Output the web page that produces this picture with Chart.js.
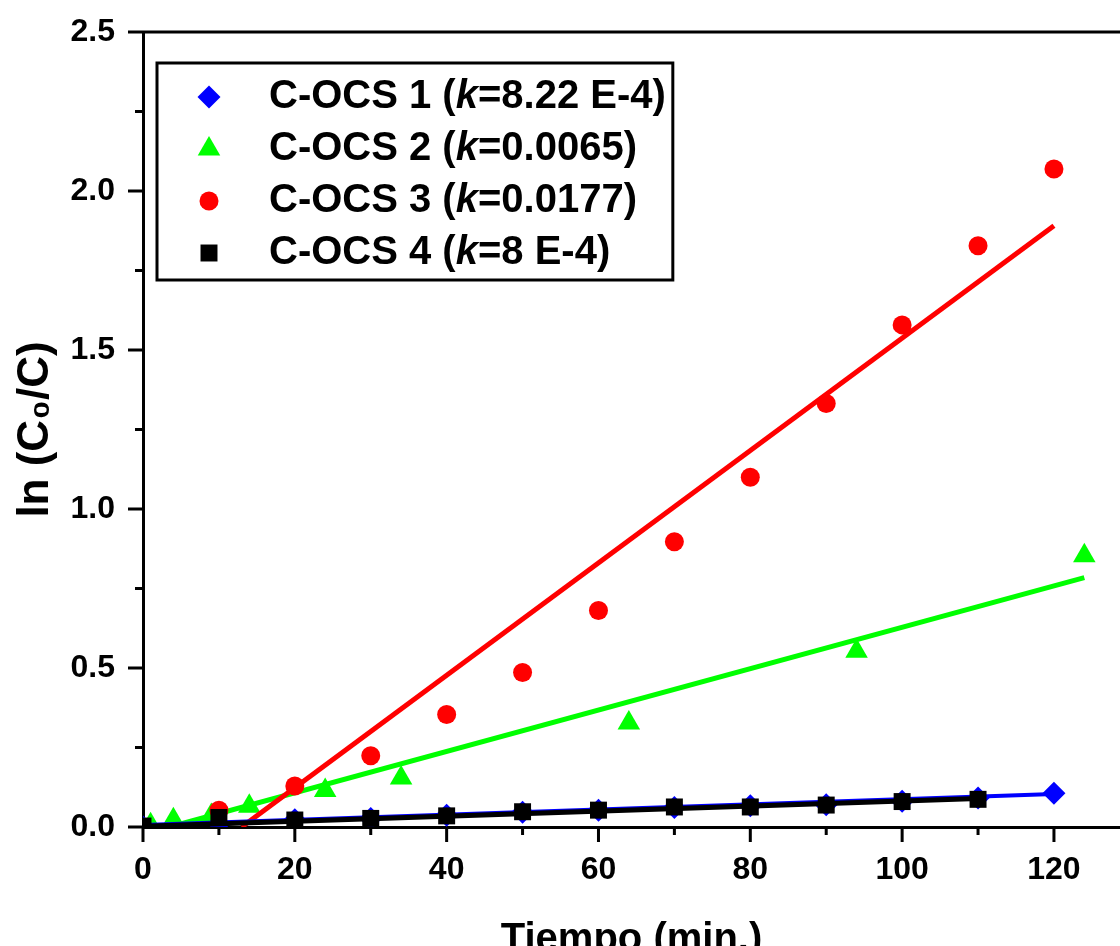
<!DOCTYPE html>
<html>
<head>
<meta charset="utf-8">
<script src="https://cdn.jsdelivr.net/npm/chart.js@4.4.1/dist/chart.umd.min.js"></script>
<style>
html,body{margin:0;padding:0;background:#fff;overflow:hidden}
#wrap{width:1120px;height:946px;position:relative}
</style>
</head>
<body>
<div id="wrap"><canvas id="c" width="1120" height="946"></canvas></div>
<script>
// ---- data ----
const timesA = [0, 10, 20, 30, 40, 50, 60, 70, 80, 90, 100, 110, 120]; // C-OCS 1 and C-OCS 3
const timesB = [1, 4, 9, 14, 24, 34, 64, 94, 124];                     // C-OCS 2
const timesD = [0, 10, 20, 30, 40, 50, 60, 70, 80, 90, 100, 110];      // C-OCS 4
const ocs1 = [0.0, 0.01, 0.023, 0.027, 0.037, 0.046, 0.053, 0.061, 0.067, 0.07, 0.081, 0.091, 0.106];
const ocs2 = [0.007, 0.023, 0.036, 0.065, 0.115, 0.154, 0.327, 0.553, 0.853];
const ocs3 = [0.0, 0.053, 0.129, 0.224, 0.354, 0.486, 0.681, 0.897, 1.10, 1.332, 1.579, 1.828, 2.069];
const ocs4 = [0.003, 0.03, 0.022, 0.027, 0.035, 0.048, 0.053, 0.063, 0.063, 0.069, 0.08, 0.087];
// linear fit lines (start / end)
const fit1T = [0, 120],   fit1Y = [0.006, 0.104];
const fit2T = [3.5, 124], fit2Y = [0.0, 0.784];
const fit3T = [13, 120],  fit3Y = [0.0, 1.891];
const fit4T = [0, 110],   fit4Y = [0.002, 0.09];
const seriesNames = ['C-OCS 1', 'C-OCS 2', 'C-OCS 3', 'C-OCS 4'];
const kLabels = ['8.22 E-4', '0.0065', '0.0177', '8 E-4'];
const xMajor = [0, 20, 40, 60, 80, 100, 120];
const xMinor = [10, 30, 50, 70, 90, 110];
const yMajor = [0, 0.5, 1.0, 1.5, 2.0, 2.5];
const yMinor = [0.25, 0.75, 1.25, 1.75, 2.25];
const xTitle = 'Tiempo (min.)';
const yTitle = 'ln (C\u2080/C)';

// ---- styling ----
const FONT = '"Liberation Sans", Arial, Helvetica, sans-serif';
const BLUE = '#0000ff', GREEN = '#00ff00', RED = '#ff0000', BLACK = '#000000';
const markers = [
  {style: 'rectRot', r: 11.5, color: BLUE},
  {style: 'triangle', r: 13, color: GREEN},
  {style: 'circle', r: 9.5, color: RED},
  {style: 'rect', r: 12, color: BLACK}
];
const pts = (xs, ys) => xs.map((x, i) => ({x: x, y: ys[i]}));

const tickPlugin = {
  id: 'tickMarks',
  afterDraw(chart) {
    const {ctx, chartArea: a, scales: {x, y}} = chart;
    ctx.save();
    ctx.strokeStyle = '#000';
    ctx.lineWidth = 3;
    ctx.lineCap = 'butt';
    ctx.beginPath();
    xMajor.forEach(v => { const p = x.getPixelForValue(v); ctx.moveTo(p, a.bottom); ctx.lineTo(p, a.bottom + 15); });
    xMinor.forEach(v => { const p = x.getPixelForValue(v); ctx.moveTo(p, a.bottom); ctx.lineTo(p, a.bottom + 8); });
    yMajor.forEach(v => { const p = y.getPixelForValue(v); ctx.moveTo(a.left, p); ctx.lineTo(a.left - 15, p); });
    yMinor.forEach(v => { const p = y.getPixelForValue(v); ctx.moveTo(a.left, p); ctx.lineTo(a.left - 8, p); });
    // top frame line
    ctx.moveTo(a.left, a.top); ctx.lineTo(a.right, a.top);
    ctx.stroke();
    ctx.restore();
  }
};

function drawMarker(ctx, m, cx, cy) {
  if (window.Chart && Chart.helpers && Chart.helpers.drawPoint) {
    ctx.fillStyle = m.color; ctx.strokeStyle = m.color;
    Chart.helpers.drawPoint(ctx, {pointStyle: m.style, radius: m.r, borderWidth: 0, rotation: 0}, cx, cy);
    return;
  }
  ctx.fillStyle = m.color;
  ctx.beginPath();
  if (m.style === 'circle') ctx.arc(cx, cy, m.r, 0, Math.PI * 2);
  else if (m.style === 'rect') { const s = m.r * Math.SQRT1_2; ctx.rect(cx - s, cy - s, 2 * s, 2 * s); }
  else if (m.style === 'rectRot') { ctx.moveTo(cx, cy - m.r); ctx.lineTo(cx + m.r, cy); ctx.lineTo(cx, cy + m.r); ctx.lineTo(cx - m.r, cy); ctx.closePath(); }
  else { ctx.moveTo(cx, cy - m.r); ctx.lineTo(cx + m.r * 0.866, cy + m.r / 2); ctx.lineTo(cx - m.r * 0.866, cy + m.r / 2); ctx.closePath(); }
  ctx.fill();
}

const legendPlugin = {
  id: 'boxLegend',
  afterDraw(chart) {
    const {ctx, chartArea: a} = chart;
    const left = a.left + 14, top = a.top + 31;
    const rowH = 52, firstRow = 34;
    const markerX = left + 52, textX = left + 112;
    const fb = 'bold 40px ' + FONT, fi = 'italic bold 40px ' + FONT;
    ctx.save();
    const rows = seriesNames.map((n, i) => ({pre: n + ' (', k: 'k', post: '=' + kLabels[i] + ')'}));
    let maxRight = 0;
    rows.forEach(r => {
      ctx.font = fb; const w1 = ctx.measureText(r.pre).width;
      ctx.font = fi; const w2 = ctx.measureText(r.k).width;
      ctx.font = fb; const w3 = ctx.measureText(r.post).width;
      r.w = [w1, w2, w3];
      maxRight = Math.max(maxRight, textX + w1 + w2 + w3);
    });
    const right = maxRight + 7, bottom = top + 217;
    ctx.fillStyle = '#fff';
    ctx.fillRect(left, top, right - left, bottom - top);
    ctx.lineWidth = 3; ctx.strokeStyle = '#000';
    ctx.strokeRect(left, top, right - left, bottom - top);
    rows.forEach((r, i) => {
      const cy = top + firstRow + i * rowH;
      drawMarker(ctx, markers[i], markerX, cy);
      ctx.fillStyle = '#000';
      ctx.textBaseline = 'middle';
      ctx.textAlign = 'left';
      let x = textX;
      ctx.font = fb; ctx.fillText(r.pre, x, cy); x += r.w[0];
      ctx.font = fi; ctx.fillText(r.k, x, cy); x += r.w[1];
      ctx.font = fb; ctx.fillText(r.post, x, cy);
    });
    ctx.restore();
  }
};

const fitLine = (xs, ys, color, w, name) => ({
  label: name, data: pts(xs, ys), showLine: true, borderColor: color, borderWidth: w,
  pointRadius: 0, pointHoverRadius: 0, fill: false, tension: 0
});
const scatterSet = (xs, ys, m, name) => ({
  label: name, data: pts(xs, ys), showLine: false, pointStyle: m.style, pointRadius: m.r,
  pointHoverRadius: m.r, backgroundColor: m.color, borderColor: m.color, borderWidth: 0
});

new Chart(document.getElementById('c'), {
  type: 'scatter',
  data: {
    datasets: [
      fitLine(fit4T, fit4Y, BLACK, 5, seriesNames[3] + ' fit'),
      scatterSet(timesD, ocs4, markers[3], seriesNames[3]),
      fitLine(fit1T, fit1Y, BLUE, 4, seriesNames[0] + ' fit'),
      scatterSet(timesA, ocs1, markers[0], seriesNames[0]),
      fitLine(fit3T, fit3Y, RED, 5, seriesNames[2] + ' fit'),
      scatterSet(timesA, ocs3, markers[2], seriesNames[2]),
      fitLine(fit2T, fit2Y, GREEN, 5, seriesNames[1] + ' fit'),
      scatterSet(timesB, ocs2, markers[1], seriesNames[1])
    ]
  },
  options: {
    responsive: false,
    animation: false,
    devicePixelRatio: 1,
    layout: {autoPadding: false, padding: {left: 0, right: 0, top: 32, bottom: 0}},
    plugins: {legend: {display: false}, tooltip: {enabled: false}},
    scales: {
      x: {
        type: 'linear', position: 'bottom', min: 0, max: 128.7,
        grid: {display: false, drawTicks: false},
        border: {display: true, width: 3, color: '#000'},
        afterBuildTicks: s => { s.ticks = xMajor.map(v => ({value: v})); },
        ticks: {padding: 24, color: '#000', maxRotation: 0, autoSkip: false,
                font: {family: FONT, size: 32, weight: 'bold'}, callback: v => String(v)},
        title: {display: true, text: xTitle, color: '#000',
                font: {family: FONT, size: 40, weight: 'bold'}, padding: {top: 0, bottom: -18}},
        afterFit: s => { s.height = 119; s.paddingLeft = 0; s.paddingRight = 0; }
      },
      y: {
        type: 'linear', position: 'left', min: 0, max: 2.5,
        grid: {display: false, drawTicks: false},
        border: {display: true, width: 3, color: '#000'},
        afterBuildTicks: s => { s.ticks = yMajor.map(v => ({value: v})); },
        ticks: {padding: 28, color: '#000', autoSkip: false,
                font: {family: FONT, size: 32, weight: 'bold'}, callback: v => Number(v).toFixed(1)},
        title: {display: true, text: yTitle, color: '#000',
                font: {family: FONT, size: 44, weight: 'bold'}, padding: {top: 9, bottom: 0}},
        afterFit: s => { s.width = 143; s.paddingTop = 0; s.paddingBottom = 0; }
      }
    }
  },
  plugins: [tickPlugin, legendPlugin]
});
</script>
</body>
</html>
